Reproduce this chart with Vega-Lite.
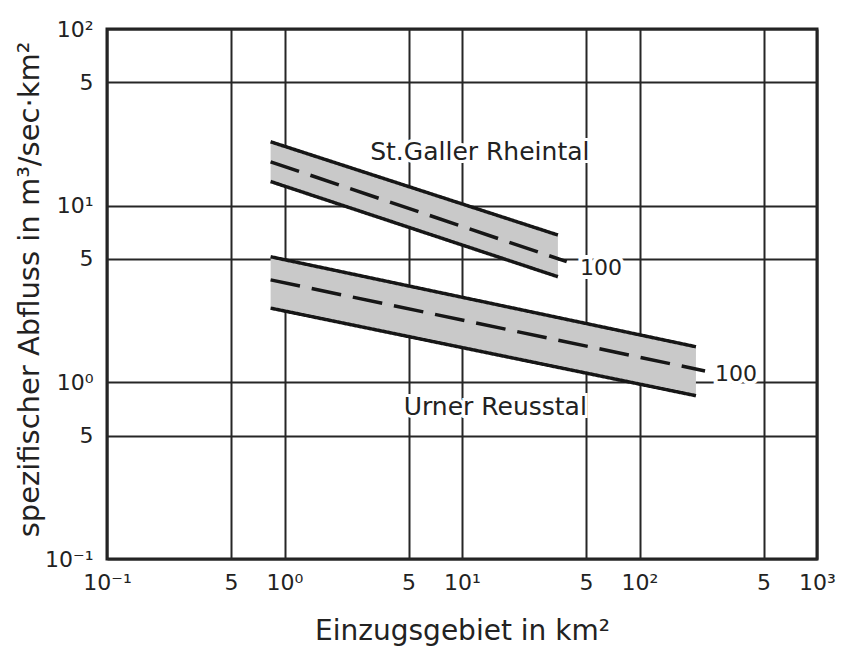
{
  "$schema": "https://vega.github.io/schema/vega-lite/v6.json",
  "width": 710,
  "height": 530,
  "autosize": {"type": "none"},
  "padding": {"left": 107, "top": 29, "right": 27, "bottom": 89},
  "background": "white",
  "config": {
    "view": {"stroke": "#1e1e1e", "strokeWidth": 3},
    "font": "DejaVu Sans"
  },
  "datasets": {
    "bands": [
      {"series": "St. Galler Rheintal", "x": 0.835, "hi": 23.0, "lo": 13.7},
      {"series": "St. Galler Rheintal", "x": 34.7, "hi": 6.82, "lo": 3.96},
      {"series": "Urner Reusstal", "x": 0.835, "hi": 5.14, "lo": 2.63},
      {"series": "Urner Reusstal", "x": 208, "hi": 1.59, "lo": 0.84}
    ],
    "lines": [
      {"line": "SG upper", "style": "solid", "x": 0.835, "y": 23.0},
      {"line": "SG upper", "style": "solid", "x": 34.7, "y": 6.82},
      {"line": "SG mid", "style": "dashed", "x": 0.835, "y": 17.7},
      {"line": "SG mid", "style": "dashed", "x": 38.9, "y": 4.82},
      {"line": "SG lower", "style": "solid", "x": 0.835, "y": 13.7},
      {"line": "SG lower", "style": "solid", "x": 34.7, "y": 3.96},
      {"line": "UR upper", "style": "solid", "x": 0.835, "y": 5.14},
      {"line": "UR upper", "style": "solid", "x": 208, "y": 1.59},
      {"line": "UR mid", "style": "dashed", "x": 0.835, "y": 3.80},
      {"line": "UR mid", "style": "dashed", "x": 234, "y": 1.16},
      {"line": "UR lower", "style": "solid", "x": 0.835, "y": 2.63},
      {"line": "UR lower", "style": "solid", "x": 208, "y": 0.84}
    ],
    "names": [
      {"label": "St.Galler Rheintal", "x": 12.6, "y": 20.0},
      {"label": "Urner Reusstal", "x": 15.4, "y": 0.726}
    ],
    "hundreds": [
      {"label": "100", "x": 46.2, "y": 4.44},
      {"label": "100", "x": 266, "y": 1.12}
    ]
  },
  "encoding": {
    "x": {
      "field": "x",
      "type": "quantitative",
      "scale": {"type": "log", "domain": [0.1, 1000], "nice": false},
      "axis": {
        "values": [0.1, 0.5, 1, 5, 10, 50, 100, 500, 1000],
        "labelExpr": "datum.value == 0.1 ? '10⁻¹' : datum.value == 1 ? '10⁰' : datum.value == 10 ? '10¹' : datum.value == 100 ? '10²' : datum.value == 1000 ? '10³' : '5'",
        "grid": true,
        "gridColor": "#262626",
        "gridWidth": 2,
        "gridOpacity": 1,
        "ticks": false,
        "domain": false,
        "labelFont": "DejaVu Sans",
        "labelFontSize": 22,
        "labelColor": "#222222",
        "labelPadding": 13,
        "labelFlush": false,
        "labelOverlap": false,
        "title": "Einzugsgebiet in km²",
        "titleFont": "DejaVu Sans",
        "titleFontSize": 28,
        "titleFontWeight": "normal",
        "titleColor": "#222222",
        "titleBaseline": "alphabetic",
        "titleY": 80
      }
    },
    "y": {
      "type": "quantitative",
      "scale": {"type": "log", "domain": [0.1, 100], "nice": false},
      "axis": {
        "values": [0.1, 0.5, 1, 5, 10, 50, 100],
        "labelExpr": "datum.value == 0.1 ? '10⁻¹' : datum.value == 1 ? '10⁰' : datum.value == 10 ? '10¹' : datum.value == 100 ? '10²' : '5'",
        "grid": true,
        "gridColor": "#262626",
        "gridWidth": 2,
        "gridOpacity": 1,
        "ticks": false,
        "domain": false,
        "labelFont": "DejaVu Sans",
        "labelFontSize": 22,
        "labelColor": "#222222",
        "labelPadding": 14,
        "labelFlush": false,
        "labelOverlap": false,
        "title": "spezifischer Abfluss in m³/sec·km²",
        "titleFont": "DejaVu Sans",
        "titleFontSize": 29,
        "titleFontWeight": "normal",
        "titleColor": "#222222",
        "titleBaseline": "alphabetic",
        "titleX": -69,
        "titleY": 260
      }
    }
  },
  "layer": [
    {
      "data": {"name": "bands"},
      "mark": {"type": "area", "fill": "#c9c9c9", "opacity": 1},
      "encoding": {
        "y": {"field": "hi"},
        "y2": {"field": "lo"},
        "detail": {"field": "series", "type": "nominal"}
      }
    },
    {
      "data": {"name": "lines"},
      "mark": {"type": "line", "color": "#161616", "strokeWidth": 3.5, "strokeCap": "butt"},
      "encoding": {
        "y": {"field": "y"},
        "detail": {"field": "line", "type": "nominal"},
        "strokeDash": {
          "field": "style",
          "type": "nominal",
          "scale": {"domain": ["solid", "dashed"], "range": [[1, 0], [30, 12]]},
          "legend": null
        }
      }
    },
    {
      "data": {"name": "names"},
      "mark": {"type": "text", "fontSize": 25, "font": "DejaVu Sans", "color": "white", "align": "center", "baseline": "middle", "stroke": "white", "strokeWidth": 6},
      "encoding": {"y": {"field": "y"}, "text": {"field": "label"}}
    },
    {
      "data": {"name": "names"},
      "mark": {"type": "text", "fontSize": 25, "font": "DejaVu Sans", "color": "#222222", "align": "center", "baseline": "middle"},
      "encoding": {"y": {"field": "y"}, "text": {"field": "label"}}
    },
    {
      "data": {"name": "hundreds"},
      "mark": {"type": "text", "fontSize": 22, "font": "DejaVu Sans", "color": "white", "align": "left", "baseline": "middle", "stroke": "white", "strokeWidth": 8},
      "encoding": {"y": {"field": "y"}, "text": {"field": "label"}}
    },
    {
      "data": {"name": "hundreds"},
      "mark": {"type": "text", "fontSize": 22, "font": "DejaVu Sans", "color": "#222222", "align": "left", "baseline": "middle"},
      "encoding": {"y": {"field": "y"}, "text": {"field": "label"}}
    }
  ]
}
